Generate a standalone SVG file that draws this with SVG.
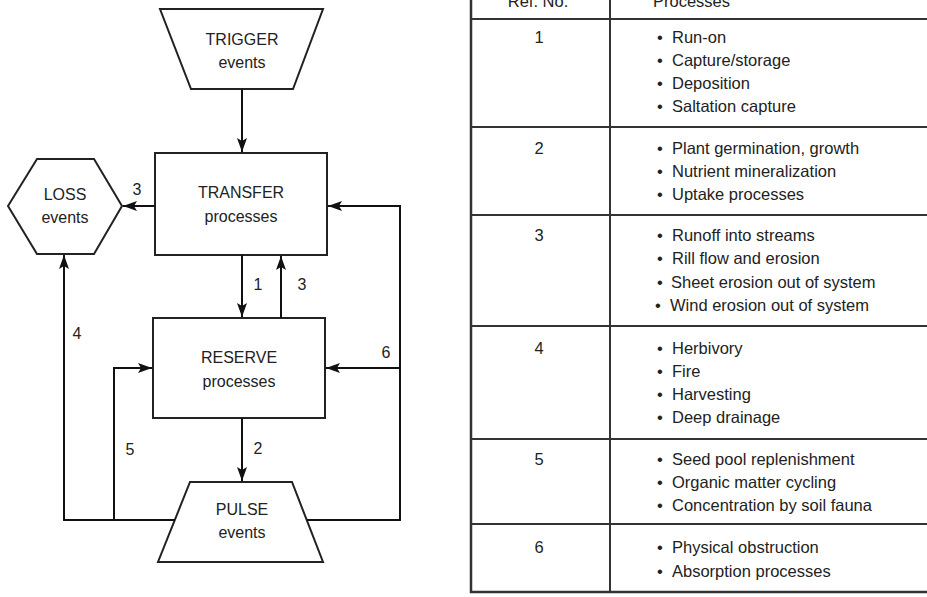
<svg xmlns="http://www.w3.org/2000/svg" width="927" height="597" viewBox="0 0 927 597">
<style>
.shape{fill:#fff;stroke:#222;stroke-width:2}
.c{fill:none;stroke:#111;stroke-width:2}
.t{font-family:"Liberation Sans",Arial,sans-serif;font-size:16px;fill:#222}
.m{text-anchor:middle}
.tb{font-family:"Liberation Sans",Arial,sans-serif;font-size:16.5px;fill:#222}
.g{stroke:#333;fill:none}
</style>
<defs>
<marker id="ah" markerUnits="userSpaceOnUse" markerWidth="15" markerHeight="10" refX="14" refY="5" orient="auto">
<path d="M0,0 L14,5 L0,10 L3,5 z" fill="#111"/>
</marker>
</defs>
<rect width="927" height="597" fill="#fff"/>

<g id="trigger">
<polygon class="shape" points="160,9 323,9 293,89 191,89"/>
<text class="t m" x="242" y="45">TRIGGER</text>
<text class="t m" x="242" y="68">events</text>
</g>
<g id="transfer">
<rect class="shape" x="155" y="153" width="172" height="102"/>
<text class="t m" x="241" y="198">TRANSFER</text>
<text class="t m" x="241" y="222">processes</text>
</g>
<g id="loss">
<polygon class="shape" points="8,206 37,159 94,159 122,206 94,254 37,254"/>
<text class="t m" x="65" y="200">LOSS</text>
<text class="t m" x="65" y="223">events</text>
</g>
<g id="reserve">
<rect class="shape" x="153" y="318" width="172" height="100"/>
<text class="t m" x="239" y="363">RESERVE</text>
<text class="t m" x="239" y="387">processes</text>
</g>
<g id="pulse">
<polygon class="shape" points="190,482 292,482 323,562 158,562"/>
<text class="t m" x="242" y="515">PULSE</text>
<text class="t m" x="242" y="538">events</text>
</g>

<g id="connectors">
<path class="c" d="M242,89 V152" marker-end="url(#ah)"/>
<path class="c" d="M155,206 H123" marker-end="url(#ah)"/>
<path class="c" d="M242,255 V317" marker-end="url(#ah)"/>
<path class="c" d="M281,318 V256" marker-end="url(#ah)"/>
<path class="c" d="M242,418 V481" marker-end="url(#ah)"/>
<path class="c" d="M175,520 H64 V255" marker-end="url(#ah)"/>
<path class="c" d="M114,520 V368 H152" marker-end="url(#ah)"/>
<path class="c" d="M307,520 H400 V206 H328" marker-end="url(#ah)"/>
<path class="c" d="M400,368 H326" marker-end="url(#ah)"/>
<text class="t m" x="137" y="195">3</text>
<text class="t m" x="258" y="290">1</text>
<text class="t m" x="302" y="290">3</text>
<text class="t m" x="77" y="339">4</text>
<text class="t m" x="130" y="455">5</text>
<text class="t m" x="258" y="454">2</text>
<text class="t m" x="386" y="358">6</text>
</g>

<g id="table">
<path class="g" stroke-width="2.5" d="M471,-2 V592 H927"/>
<path class="g" stroke-width="2" d="M610,-2 V592"/>
<path class="g" stroke-width="2" d="M471,19 H927 M471,127 H927 M471,215 H927 M471,326 H927 M471,439 H927 M471,524 H927"/>
<text class="tb m" x="538" y="7">Ref. No.</text>
<text class="tb" x="653" y="7">Processes</text>

<text class="tb m" x="539" y="43">1</text>
<text class="tb" x="657" y="43">•</text><text class="tb" x="672" y="43">Run-on</text>
<text class="tb" x="657" y="66">•</text><text class="tb" x="672" y="66">Capture/storage</text>
<text class="tb" x="657" y="89">•</text><text class="tb" x="672" y="89">Deposition</text>
<text class="tb" x="657" y="112">•</text><text class="tb" x="672" y="112">Saltation capture</text>

<text class="tb m" x="539" y="154">2</text>
<text class="tb" x="657" y="154">•</text><text class="tb" x="672" y="154">Plant germination, growth</text>
<text class="tb" x="657" y="177">•</text><text class="tb" x="672" y="177">Nutrient mineralization</text>
<text class="tb" x="657" y="200">•</text><text class="tb" x="672" y="200">Uptake processes</text>

<text class="tb m" x="539" y="241">3</text>
<text class="tb" x="657" y="241">•</text><text class="tb" x="672" y="241">Runoff into streams</text>
<text class="tb" x="657" y="264">•</text><text class="tb" x="672" y="264">Rill flow and erosion</text>
<text class="tb" x="657" y="288">•</text><text class="tb" x="671" y="288">Sheet erosion out of system</text>
<text class="tb" x="655" y="311">•</text><text class="tb" x="670" y="311">Wind erosion out of system</text>

<text class="tb m" x="539" y="354">4</text>
<text class="tb" x="657" y="354">•</text><text class="tb" x="672" y="354">Herbivory</text>
<text class="tb" x="657" y="377">•</text><text class="tb" x="672" y="377">Fire</text>
<text class="tb" x="657" y="400">•</text><text class="tb" x="672" y="400">Harvesting</text>
<text class="tb" x="657" y="423">•</text><text class="tb" x="672" y="423">Deep drainage</text>

<text class="tb m" x="539" y="465">5</text>
<text class="tb" x="657" y="465">•</text><text class="tb" x="672" y="465">Seed pool replenishment</text>
<text class="tb" x="657" y="488">•</text><text class="tb" x="672" y="488">Organic matter cycling</text>
<text class="tb" x="657" y="511">•</text><text class="tb" x="672" y="511">Concentration by soil fauna</text>

<text class="tb m" x="539" y="553">6</text>
<text class="tb" x="657" y="553">•</text><text class="tb" x="672" y="553">Physical obstruction</text>
<text class="tb" x="657" y="577">•</text><text class="tb" x="672" y="577">Absorption processes</text>
</g>
</svg>
